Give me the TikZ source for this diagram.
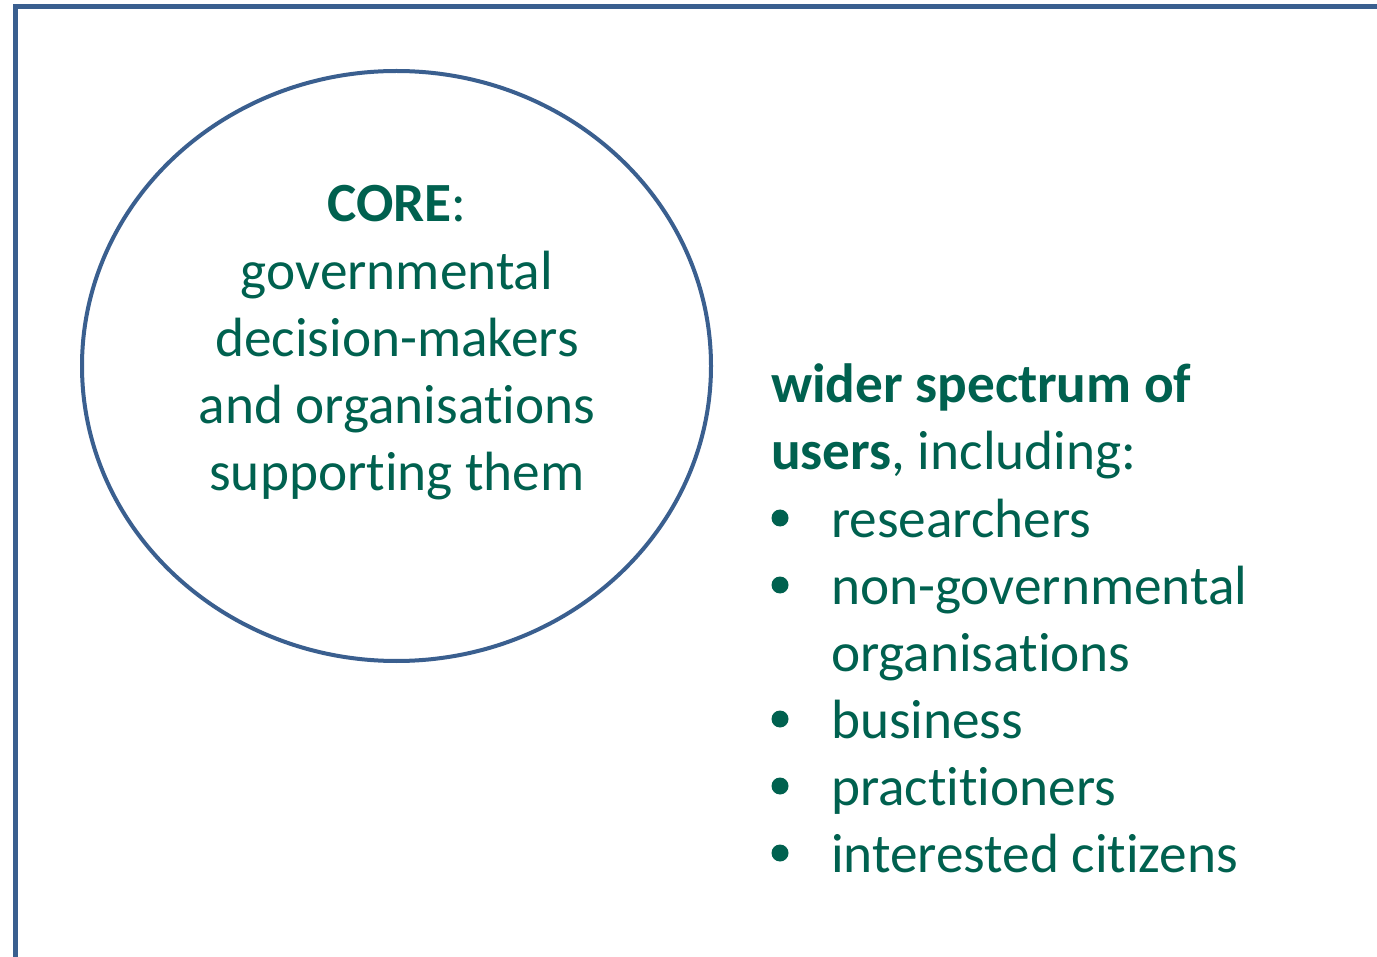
\documentclass[tikz,border=0pt]{standalone}
\usepackage{fontspec}
\setmainfont{Carlito}[Ligatures={NoCommon,NoRare,NoContextual},RawFeature={-calt;-clig;-dlig}]
\usetikzlibrary{shapes.geometric}
\definecolor{frameblue}{HTML}{3A5F8F}
\definecolor{tealtext}{HTML}{00614F}
\newcommand{\nti}{t\kern0pt i}
\begin{document}
\begin{tikzpicture}[x=1pt,y=-1pt,
  txt/.style={inner sep=0pt,outer sep=0pt,text=tealtext,font=\fontsize{55.3}{67}\selectfont},
  ctr/.style={txt,anchor=base},
  lft/.style={txt,anchor=base west},
  blt/.style={inner sep=0pt,outer sep=0pt,fill=tealtext,circle,minimum size=17pt}]
\useasboundingbox (0,0) rectangle (1377,957);
\fill[white] (0,0) rectangle (1377,957);
\draw[frameblue,line width=5.5pt] (15.5,960) -- (15.5,6.5) -- (1380,6.5);
\node[draw=frameblue,line width=4pt,ellipse,minimum width=629pt,minimum height=590pt,inner sep=0pt] (core) at (396.5,366) {};
\node[ctr] (l1) at (397,222) {\textbf{CORE}:};
\node[ctr] (l2) at (397,290) {governmental};
\node[ctr] (l3) at (397,357) {decision-makers};
\node[ctr] (l4) at (397,424) {and organisa\nti ons};
\node[ctr] (l5) at (397,491) {suppor\nti ng them};
\node[lft] (w1) at (771,403) {\textbf{wider spectrum of}};
\node[lft] (w2) at (771,470) {\textbf{users}, including:};
\node[lft] (b1) at (831,537) {researchers};
\node[lft] (b2) at (831,604) {non-governmental};
\node[lft] (b3) at (831,671) {organisa\nti ons};
\node[lft] (b4) at (831,738) {business};
\node[lft] (b5) at (831,805) {prac\nti \nti oners};
\node[lft] (b6) at (831,872) {interested ci\nti zens};
\foreach \y/\n in {537/d1,604/d2,738/d4,805/d5,872/d6}{
  \node[blt] (\n) at (780,\y-19) {};
}
\end{tikzpicture}
\end{document}
